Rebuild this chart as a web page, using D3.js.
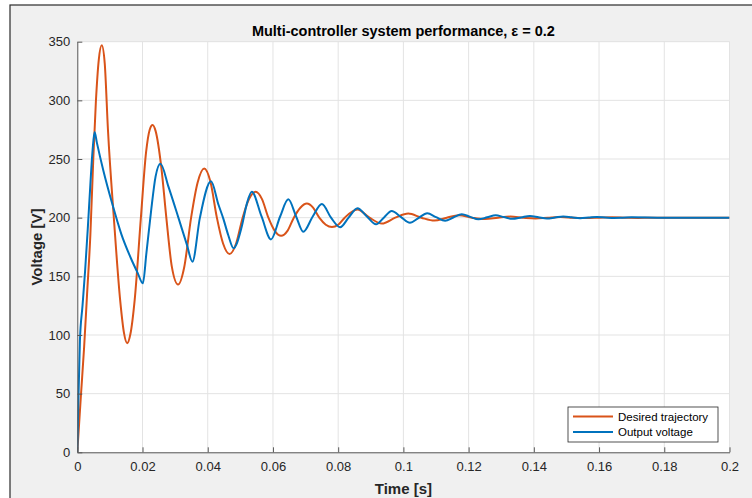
<!DOCTYPE html>
<html>
<head>
<meta charset="utf-8">
<script src="https://cdn.jsdelivr.net/npm/d3@7"></script>
<style>
  body { margin: 0; background: #fff; }
  svg { display: block; font-family: "Liberation Sans", Arial, Helvetica, sans-serif; }
</style>
</head>
<body>
<script>
const width = 752;
const height = 498;

// time [s], voltage [V]
const desiredT = [0, 0.0011, 0.0021, 0.003, 0.004, 0.0049, 0.0057, 0.0066, 0.0075, 0.0084, 0.0094,
  0.0112, 0.0132, 0.0143, 0.0153, 0.0163, 0.0176, 0.0195, 0.0211, 0.0222, 0.0231, 0.024, 0.0258,
  0.0273, 0.029, 0.0309, 0.0328, 0.0349, 0.0369, 0.0389, 0.0408, 0.0428, 0.0447, 0.0467, 0.0487,
  0.0507, 0.0527, 0.0547, 0.0566, 0.0586, 0.0605, 0.0625, 0.0645, 0.0664, 0.0684, 0.0704, 0.0723,
  0.0742, 0.0762, 0.0781, 0.08, 0.082, 0.0859, 0.0896, 0.0934, 0.0975, 0.1015, 0.1055, 0.1095,
  0.1133, 0.117, 0.121, 0.125, 0.129, 0.1328, 0.1367, 0.1405, 0.1443, 0.1482, 0.152, 0.156, 0.16,
  0.164, 0.168, 0.172, 0.176, 0.185, 0.2];
const desiredV = [0, 48, 90, 135, 185, 250, 299, 335, 347, 332, 275,
  200, 128, 102, 93, 101, 130, 200, 256, 275, 279, 274, 242,
  200, 158, 143, 158, 200, 230, 242, 231, 200, 178, 169, 178,
  200, 216, 222, 216, 200, 189, 184.5, 189, 200, 208.5, 212, 208.5,
  200, 194, 192, 194, 200, 207, 200, 195, 200, 203.5, 200, 197.5,
  200, 202, 200, 198.8, 200, 200.9, 200, 199.4, 200, 200.5, 200, 199.7, 200,
  200.3, 200, 199.8, 200, 200, 200];

const outputT = [0, 0.0003, 0.0008, 0.0016, 0.0024, 0.0032, 0.004, 0.0047, 0.0053, 0.006, 0.008,
  0.0107, 0.0135, 0.0165, 0.0185, 0.0201, 0.0212, 0.0226, 0.024, 0.0255, 0.028, 0.031, 0.0336,
  0.0353, 0.0376, 0.041, 0.0433, 0.0448, 0.0463, 0.0479, 0.0504, 0.052, 0.0535, 0.0565, 0.0594,
  0.0622, 0.0647, 0.0671, 0.0693, 0.0722, 0.075, 0.0778, 0.0806, 0.0832, 0.0859, 0.0888, 0.0916,
  0.094, 0.0964, 0.0992, 0.102, 0.1046, 0.1073, 0.11, 0.1128, 0.1153, 0.1179, 0.1205, 0.123,
  0.1257, 0.1283, 0.1308, 0.1334, 0.1361, 0.1388, 0.1414, 0.144, 0.1465, 0.149, 0.1516, 0.1542,
  0.1568, 0.1593, 0.1619, 0.1645, 0.1672, 0.17, 0.18, 0.2];
const outputV = [0, 40, 95, 125, 155, 190, 228, 258, 273, 264, 240,
  212, 186, 165, 153, 144, 170, 205, 235, 246, 226, 200, 177,
  162.5, 200, 231, 211, 199, 185, 174, 192, 212, 222, 201, 181.5,
  201, 215.6, 201, 188, 201, 211.6, 200, 191.8, 200, 208, 201, 194.3,
  200, 205.7, 200.7, 195.7, 199.7, 203.7, 200.5, 197.4, 200.1, 202.9, 200.7, 198.6,
  200.3, 202, 200.5, 199, 200.2, 201.5, 200.4, 199.3, 200.1, 201, 200.3, 199.6,
  200.1, 200.6, 200.2, 199.8, 200, 200.3, 200, 200];

const xTicks = [0, 0.02, 0.04, 0.06, 0.08, 0.1, 0.12, 0.14, 0.16, 0.18, 0.2];
const yTicks = [0, 50, 100, 150, 200, 250, 300, 350];

const seriesNames = ['Desired trajectory', 'Output voltage'];
const seriesColors = ['#D95319', '#0072BD'];

const desired = desiredT.map((t, i) => ({t: t, v: desiredV[i]}));
const output = outputT.map((t, i) => ({t: t, v: outputV[i]}));

const plot = {left: 77.3, right: 729.5, top: 41.7, bottom: 452.3};

const x = d3.scaleLinear().domain([0, 0.2]).range([plot.left, plot.right]);
const y = d3.scaleLinear().domain([0, 350]).range([plot.bottom, plot.top]);

const svg = d3.select('body').append('svg')
  .attr('width', width)
  .attr('height', height);

// figure frame
svg.append('rect')
  .attr('x', 10).attr('y', 5)
  .attr('width', width + 20).attr('height', height + 20)
  .attr('fill', '#f0f0f0')
  .attr('stroke', '#2b2b2b')
  .attr('stroke-width', 1.2);

svg.append('rect')
  .attr('x', plot.left).attr('y', plot.top)
  .attr('width', plot.right - plot.left)
  .attr('height', plot.bottom - plot.top)
  .attr('fill', '#fff')
  .attr('stroke', '#dcdcdc')
  .attr('stroke-width', 0.6);

// grid
const grid = svg.append('g').attr('stroke', '#e3e3e3').attr('stroke-width', 1);
grid.selectAll('line.gx')
  .data(xTicks.slice(1))
  .join('line')
    .attr('class', 'gx')
    .attr('x1', d => x(d)).attr('x2', d => x(d))
    .attr('y1', plot.top).attr('y2', plot.bottom);
grid.selectAll('line.gy')
  .data(yTicks.slice(1))
  .join('line')
    .attr('class', 'gy')
    .attr('x1', plot.left).attr('x2', plot.right)
    .attr('y1', d => y(d)).attr('y2', d => y(d));

// curves
const line = d3.line()
  .x(d => x(d.t))
  .y(d => y(d.v))
  .curve(d3.curveMonotoneX);

svg.append('defs').append('clipPath').attr('id', 'clip')
  .append('rect')
    .attr('x', plot.left).attr('y', plot.top - 5)
    .attr('width', plot.right - plot.left)
    .attr('height', plot.bottom - plot.top + 5);

const curves = svg.append('g').attr('clip-path', 'url(#clip)');
curves.selectAll('path')
  .data([desired, output])
  .join('path')
    .attr('d', line)
    .attr('fill', 'none')
    .attr('stroke', (d, i) => seriesColors[i])
    .attr('stroke-width', 2);

// axes
const xAxis = svg.append('g')
  .attr('transform', `translate(0,${plot.bottom})`)
  .call(d3.axisBottom(x)
    .tickValues(xTicks)
    .tickFormat(d3.format('~g'))
    .tickSizeInner(-5)
    .tickSizeOuter(0)
    .tickPadding(9));

const yAxis = svg.append('g')
  .attr('transform', `translate(${plot.left},0)`)
  .call(d3.axisLeft(y)
    .tickValues(yTicks)
    .tickSizeInner(-5)
    .tickSizeOuter(0)
    .tickPadding(7));

[xAxis, yAxis].forEach(a => {
  a.select('.domain').attr('stroke', '#595959');
  a.selectAll('.tick line').attr('stroke', '#595959');
  a.selectAll('.tick text')
    .attr('fill', '#262626')
    .attr('font-size', 13)
    .attr('font-family', '"Liberation Sans", Arial, sans-serif');
});

// labels
svg.append('text')
  .attr('x', (plot.left + plot.right) / 2)
  .attr('y', 36)
  .attr('text-anchor', 'middle')
  .attr('font-size', 14.5)
  .attr('font-weight', 'bold')
  .attr('fill', '#000')
  .text('Multi-controller system performance, ε = 0.2');

svg.append('text')
  .attr('x', (plot.left + plot.right) / 2)
  .attr('y', 494)
  .attr('text-anchor', 'middle')
  .attr('font-size', 15)
  .attr('font-weight', 'bold')
  .attr('fill', '#262626')
  .text('Time [s]');

svg.append('text')
  .attr('transform', `translate(42,${(plot.top + plot.bottom) / 2}) rotate(-90)`)
  .attr('text-anchor', 'middle')
  .attr('font-size', 15)
  .attr('font-weight', 'bold')
  .attr('fill', '#262626')
  .text('Voltage [V]');

// legend
const legend = svg.append('g').attr('transform', 'translate(568,407)');
legend.append('rect')
  .attr('width', 150).attr('height', 35)
  .attr('fill', '#fff')
  .attr('stroke', '#262626')
  .attr('stroke-width', 0.8);

const rows = legend.selectAll('g.row')
  .data(seriesNames)
  .join('g')
    .attr('class', 'row')
    .attr('transform', (d, i) => `translate(0,${9.5 + i * 15.5})`);
rows.append('line')
  .attr('x1', 5).attr('x2', 45)
  .attr('stroke', (d, i) => seriesColors[i])
  .attr('stroke-width', 2);
rows.append('text')
  .attr('x', 50)
  .attr('y', 4)
  .attr('font-size', 11.5)
  .attr('fill', '#000')
  .text(d => d);
</script>
</body>
</html>
